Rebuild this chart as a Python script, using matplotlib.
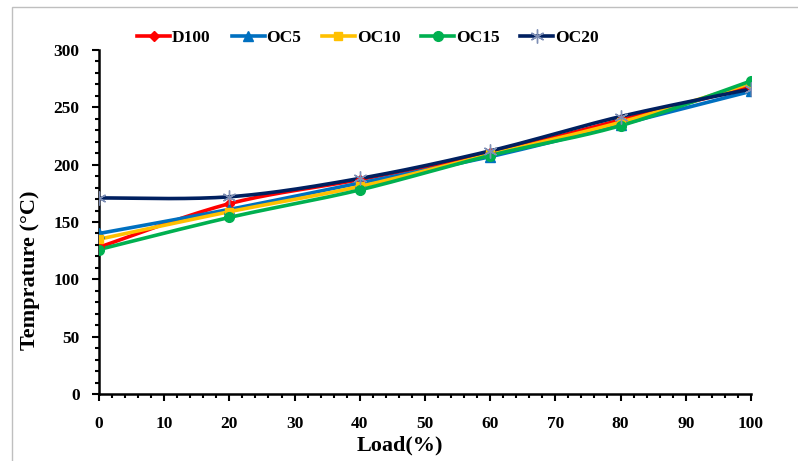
import matplotlib
matplotlib.use("Agg")
import matplotlib.pyplot as plt
import numpy as np
from matplotlib.lines import Line2D
from matplotlib.patches import Rectangle
from matplotlib.ticker import MultipleLocator

# Data
load = [0, 20, 40, 60, 80, 100]
d100 = [128, 166, 187, 210, 239, 268]
oc5 = [140, 161, 184, 207, 235, 264]
oc10 = [135, 159, 181, 209, 237, 271]
oc15 = [126, 154, 178, 208, 234, 273]
oc20 = [171, 172, 188, 212, 242, 266]

names = ["D100", "OC5", "OC10", "OC15", "OC20"]
series = [d100, oc5, oc10, oc15, oc20]
colors = ["#FF0000", "#0070C0", "#FFC000", "#00B050", "#002060"]
markers = ["D", "^", "s", "o", (6, 2, 0)]
msizes = [5, 7, 6, 7, 10]
medge = ["#FF0000", "#0070C0", "#FFC000", "#00B050", "#7F8FB5"]


#Excel-style smoothed curve through the points (bezier with 1/6 tangents)
def smooth(x, y, n=30):
    x = np.asarray(x, float)
    y = np.asarray(y, float)
    px, py = [], []
    for i in range(len(x) - 1):
        i0 = max(i - 1, 0)
        i3 = min(i + 2, len(x) - 1)
        c1x = x[i] + (x[i + 1] - x[i0]) / 6
        c1y = y[i] + (y[i + 1] - y[i0]) / 6
        c2x = x[i + 1] - (x[i3] - x[i]) / 6
        c2y = y[i + 1] - (y[i3] - y[i]) / 6
        t = np.linspace(0, 1, n)
        bx = (1-t)**3*x[i] + 3*(1-t)**2*t*c1x + 3*(1-t)*t**2*c2x + t**3*x[i+1]
        by = (1-t)**3*y[i] + 3*(1-t)**2*t*c1y + 3*(1-t)*t**2*c2y + t**3*y[i+1]
        px.extend(bx)
        py.extend(by)
    return px, py


plt.rcParams['font.family'] = ['Liberation Serif', 'DejaVu Serif']
plt.rcParams['font.weight'] = 'bold'

fig = plt.figure(figsize=(7.98, 4.61), dpi=100)
ax = fig.add_axes([0.124, 0.1453, 0.817, 0.7462])

#Grey frame of the chart area
fig.patches.append(Rectangle((12 / 798, -0.1), 1.2, (461 - 7) / 461 + 0.1,
                             transform=fig.transFigure, fill=False,
                             edgecolor="#BFBFBF", linewidth=1.0))

handles = []
for name, vals, c, m, ms, me in zip(names, series, colors, markers, msizes, medge):
    sx, sy = smooth(load, vals)
    ax.plot(sx, sy, color=c, linewidth=2.6, solid_capstyle="round", zorder=2)
    ax.plot(load, vals, linestyle="none", marker=m, markersize=ms,
            color=c, markeredgecolor=me, markeredgewidth=1.0, zorder=3)
    handles.append(Line2D([], [], color=c, linewidth=2.6, marker=m,
                          markersize=ms, markeredgecolor=me,
                          markeredgewidth=1.0))

ax.set_xlim(0, 100)
ax.set_ylim(0, 300)
ax.xaxis.set_major_locator(MultipleLocator(10))
ax.xaxis.set_minor_locator(MultipleLocator(2))
ax.yaxis.set_major_locator(MultipleLocator(50))
ax.yaxis.set_minor_locator(MultipleLocator(10))

for side in ["top", "right"]:
    ax.spines[side].set_visible(False)
for side in ["left", "bottom"]:
    ax.spines[side].set_linewidth(1.8)

ax.tick_params(which="major", length=5, width=1.5, labelsize=12.5)
ax.tick_params(axis="x", which="major", pad=11)
ax.tick_params(axis="y", which="major", pad=9)
ax.tick_params(which="minor", length=3, width=1.5)
for lbl in ax.get_xticklabels() + ax.get_yticklabels():
    lbl.set_fontweight("bold")

#Axis titles sit centred in the chart area, as in the original
fig.text(400 / 798, 1 - 445 / 461, "Load(%)", fontsize=16, fontweight="bold",
         ha="center", va="center")
fig.text(30 / 798, 1 - 270 / 461, "Temprature (°C)", fontsize=16,
         fontweight="bold", rotation=90, ha="center", va="center")

fig.legend(handles, names, loc="center", bbox_to_anchor=(368 / 798, 0.918),
           ncol=5, frameon=False, fontsize=12.5, handlelength=1.9,
           handletextpad=0.1, columnspacing=1.2)

fig.savefig("out.png", dpi=100)
